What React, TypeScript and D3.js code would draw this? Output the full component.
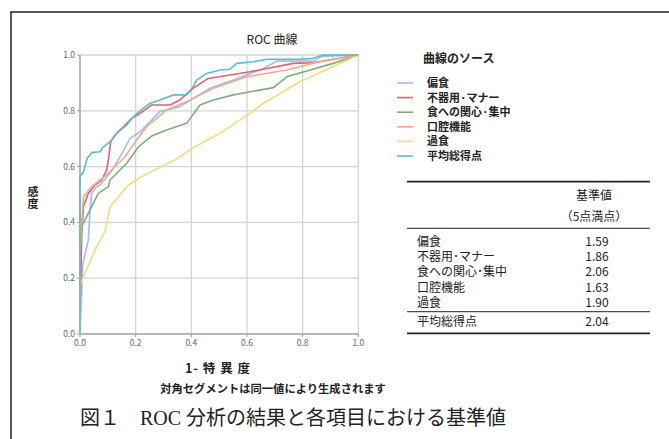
import React from 'react';
import { scaleLinear, line, format } from 'd3';

// ROC points: [1 - specificity, sensitivity]
const henshoku: [number, number][] = [[0,0],[0.003,0.07],[0.01,0.25],[0.03,0.337],[0.036,0.444],[0.042,0.504],[0.06,0.528],[0.072,0.534],[0.108,0.576],[0.144,0.636],[0.18,0.701],[0.216,0.725],[0.287,0.797],[0.359,0.815],[0.467,0.881],[0.551,0.91],[0.659,0.952],[0.707,0.978],[0.838,0.978],[0.87,0.995],[1,1]];
const bukiyou: [number, number][] = [[0,0],[0,0.1],[0.003,0.19],[0.006,0.349],[0.012,0.456],[0.03,0.504],[0.054,0.534],[0.078,0.552],[0.096,0.588],[0.102,0.624],[0.108,0.671],[0.11,0.689],[0.126,0.713],[0.156,0.743],[0.186,0.773],[0.216,0.791],[0.258,0.821],[0.323,0.821],[0.359,0.839],[0.407,0.881],[0.461,0.916],[0.611,0.94],[0.766,0.97],[0.838,0.972],[0.91,0.985],[1,1]];
const kanshin: [number, number][] = [[0,0],[0,0.29],[0.006,0.385],[0.03,0.433],[0.066,0.504],[0.102,0.528],[0.108,0.552],[0.168,0.612],[0.21,0.671],[0.258,0.71],[0.311,0.731],[0.383,0.755],[0.431,0.821],[0.479,0.839],[0.551,0.857],[0.695,0.883],[0.743,0.922],[0.91,0.97],[1,1]];
const koukuu: [number, number][] = [[0,0],[0,0.295],[0.012,0.492],[0.042,0.528],[0.102,0.576],[0.162,0.636],[0.203,0.695],[0.24,0.743],[0.311,0.803],[0.383,0.833],[0.479,0.881],[0.599,0.922],[0.743,0.946],[0.862,0.976],[1,1]];
const kashoku: [number, number][] = [[0,0],[0,0.17],[0.012,0.205],[0.06,0.313],[0.09,0.367],[0.108,0.456],[0.174,0.534],[0.222,0.564],[0.341,0.624],[0.413,0.671],[0.503,0.719],[0.611,0.791],[0.659,0.827],[0.79,0.904],[1,1]];
const heikin: [number, number][] = [[0,0],[0,0.564],[0.012,0.58],[0.026,0.63],[0.042,0.65],[0.072,0.653],[0.084,0.671],[0.108,0.689],[0.138,0.725],[0.168,0.749],[0.192,0.779],[0.227,0.809],[0.252,0.827],[0.287,0.839],[0.335,0.857],[0.383,0.857],[0.407,0.887],[0.419,0.91],[0.455,0.934],[0.503,0.946],[0.539,0.949],[0.563,0.97],[0.623,0.976],[0.671,0.985],[0.79,0.985],[0.838,0.988],[0.874,1],[1,1]];

const seriesNames = ['偏食', '不器用·マナー', '食への関心·集中', '口腔機能', '過食', '平均総得点'];
const seriesData = [henshoku, bukiyou, kanshin, koukuu, kashoku, heikin];
const seriesColors = ['#9dbfea', '#e06070', '#80ac7c', '#f2a98a', '#f4dc7c', '#5cbcc6'];

const ticks = [0, 0.2, 0.4, 0.6, 0.8, 1.0];

// table of cut-off values
const tableItems = ['偏食', '不器用･マナー', '食への関心･集中', '口腔機能', '過食'];
const tableValues = ['1.59', '1.86', '2.06', '1.63', '1.90'];
const totalItem = '平均総得点';
const totalValue = '2.04';

const sans = '"Noto Sans CJK JP", "Liberation Sans", sans-serif';

export default function App() {
	const x = scaleLinear().domain([0, 1]).range([80, 358.3]);
	const y = scaleLinear().domain([0, 1]).range([334, 55]);
	const path = line<[number, number]>().x(d => x(d[0])).y(d => y(d[1]));
	const fmt = format('.1f');

	const legendY = (i: number) => 83 + i * 14.6;
	const rowY = (i: number) => 241.7 + i * 15.2;

	return (
		<svg width={669} height={439} style={{ position: 'absolute', left: 0, top: 0, background: '#fff' }}>
			{/* outer frame */}
			<path d="M11,439 V12 H669" fill="none" stroke="#222" strokeWidth={1.5} />

			{/* grid */}
			{ticks.map(t => (
				<g key={'g' + t}>
					<line x1={x(t)} x2={x(t)} y1={y(0)} y2={y(1)} stroke="#d4d4d4" strokeWidth={1.3} />
					<line x1={x(0)} x2={x(1)} y1={y(t)} y2={y(t)} stroke="#d4d4d4" strokeWidth={1.3} />
					<line x1={x(0) - 3} x2={x(0)} y1={y(t)} y2={y(t)} stroke="#999" strokeWidth={1} />
					<line x1={x(t)} x2={x(t)} y1={y(0)} y2={y(0) + 3} stroke="#999" strokeWidth={1} />
					<text x={x(0) - 5} y={y(t) + 3} textAnchor="end" fontSize={8.5} fill="#666" fontFamily={sans}>{fmt(t)}</text>
					<text x={x(t)} y={y(0) + 12} textAnchor="middle" fontSize={8.5} fill="#666" fontFamily={sans}>{fmt(t)}</text>
				</g>
			))}
			<line x1={x(0)} x2={x(1)} y1={y(0)} y2={y(0)} stroke="#aaa" strokeWidth={1.5} />
			<line x1={x(0)} x2={x(0)} y1={y(0)} y2={y(1)} stroke="#aaa" strokeWidth={1.5} />

			{/* curves */}
			{seriesData.map((d, i) => (
				<path key={seriesNames[i]} d={path(d) || ''} fill="none" stroke={seriesColors[i]} strokeWidth={1.6} strokeLinejoin="round" />
			))}

			{/* titles */}
			<text x={272} y={44} textAnchor="middle" fontSize={12} fontFamily={sans} fill="#222">ROC 曲線</text>
			<text x={33} y={195.5} textAnchor="middle" fontSize={11} fontWeight="bold" fontFamily={sans} fill="#222">感</text>
			<text x={33} y={207.5} textAnchor="middle" fontSize={11} fontWeight="bold" fontFamily={sans} fill="#222">度</text>
			<text x={218} y={372.5} textAnchor="middle" fontSize={12.5} fontWeight="bold" fontFamily={sans} fill="#222" letterSpacing={1}>1- 特 異 度</text>
			<text x={273} y={393} textAnchor="middle" fontSize={11.3} fontWeight="bold" fontFamily={sans} fill="#222">対角セグメントは同一値により生成されます</text>

			{/* legend */}
			<text x={423} y={63} fontSize={12} fontWeight="bold" fontFamily={sans} fill="#222">曲線のソース</text>
			{seriesNames.map((n, i) => (
				<g key={'l' + n}>
					<line x1={397} x2={413} y1={legendY(i)} y2={legendY(i)} stroke={seriesColors[i]} strokeWidth={1.6} />
					<text x={427} y={legendY(i) + 4} fontSize={11} fontWeight="bold" fontFamily={sans} fill="#222">{n}</text>
				</g>
			))}

			{/* table */}
			<line x1={407} x2={650} y1={181.7} y2={181.7} stroke="#222" strokeWidth={1.8} />
			<text x={594} y={199.5} textAnchor="middle" fontSize={12} fontFamily={sans} fill="#222">基準値</text>
			<text x={594} y={221} textAnchor="middle" fontSize={12} fontFamily={sans} fill="#222">（5点満点）</text>
			<line x1={407} x2={650} y1={228.3} y2={228.3} stroke="#222" strokeWidth={1} />
			{tableItems.map((n, i) => (
				<g key={'t' + n}>
					<text x={417} y={rowY(i) + 4.3} fontSize={12} fontFamily={sans} fill="#222">{n}</text>
					<text x={597} y={rowY(i) + 4.3} textAnchor="middle" fontSize={12} fontFamily={sans} fill="#222">{tableValues[i]}</text>
				</g>
			))}
			<line x1={407} x2={650} y1={311.7} y2={311.7} stroke="#222" strokeWidth={1} />
			<text x={417} y={326} fontSize={12} fontFamily={sans} fill="#222">{totalItem}</text>
			<text x={597} y={326} textAnchor="middle" fontSize={12} fontFamily={sans} fill="#222">{totalValue}</text>
			<line x1={407} x2={650} y1={333.3} y2={333.3} stroke="#222" strokeWidth={1.8} />

			{/* caption */}
			<text x={80} y={425} fontSize={20} fontFamily='"Liberation Serif", "Noto Sans CJK JP", serif' fill="#222">図１　ROC 分析の結果と各項目における基準値</text>
		</svg>
	);
}
